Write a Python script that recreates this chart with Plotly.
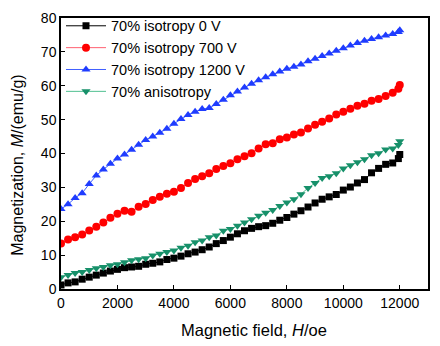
import plotly.graph_objects as go

field = [0, 250, 500, 750, 1000, 1250, 1500, 1750, 2000, 2250, 2500, 2750, 3000, 3250,
         3500, 3750, 4000, 4250, 4500, 4750, 5000, 5250, 5500, 5750, 6000, 6250, 6500,
         6750, 7000, 7250, 7500, 7750, 8000, 8250, 8500, 8750, 9000, 9250, 9500, 9750,
         10000, 10250, 10500, 10750, 11000, 11250, 11500, 11750, 11950, 12000]

iso_0V = [1.2, 1.8, 2.1, 2.9, 3.5, 4.1, 4.7, 5.3, 5.8, 6.3, 6.5, 6.7, 7.3, 7.6, 8.0, 8.7,
          9.1, 9.7, 10.4, 10.9, 11.6, 12.4, 13.4, 14.3, 15.3, 16.3, 17.2, 17.9, 18.4, 18.7,
          19.4, 20.3, 21.1, 22.1, 23.1, 24.2, 25.4, 26.5, 27.2, 27.9, 29.2, 30.1, 31.3,
          32.3, 34.3, 35.6, 36.8, 37.2, 38.5, 39.7]

iso_700V = [13.4, 14.6, 15.3, 16.1, 17.3, 18.4, 19.6, 21.0, 22.2, 23.1, 22.8, 24.3, 25.1,
            26.3, 27.2, 28.1, 28.7, 29.8, 31.3, 32.5, 33.3, 34.2, 35.4, 36.3, 37.1, 38.3,
            39.2, 40.1, 41.5, 42.7, 43.0, 44.2, 44.7, 45.6, 46.2, 47.4, 48.5, 49.4, 50.3,
            51.5, 52.3, 53.2, 54.1, 54.7, 55.6, 56.1, 57.0, 57.9, 59.1, 60.2]

iso_1200V = [23.6, 25.0, 26.9, 28.3, 31.0, 33.5, 35.3, 37.0, 38.5, 39.7, 41.1, 42.6, 44.0,
             45.0, 46.1, 47.3, 48.8, 50.2, 51.4, 52.3, 53.1, 53.4, 54.6, 55.9, 57.2, 58.3,
             59.5, 60.6, 61.6, 62.5, 63.4, 64.2, 65.0, 65.6, 66.3, 67.2, 68.0, 68.8, 69.5,
             70.3, 71.1, 71.9, 72.6, 73.3, 73.8, 74.3, 74.8, 75.3, 75.9, 76.4]

aniso = [3.5, 4.1, 4.7, 5.0, 5.6, 6.1, 6.5, 7.0, 7.3, 7.9, 8.5, 8.8, 9.1, 9.9, 10.4, 10.9,
         11.4, 12.2, 12.8, 13.8, 14.3, 15.3, 15.8, 17.2, 17.7, 18.7, 19.6, 20.6, 21.6, 22.5,
         23.3, 24.5, 25.5, 26.5, 28.0, 29.8, 31.3, 32.8, 33.3, 34.2, 35.6, 36.5, 37.4,
         38.3, 39.5, 40.1, 41.2, 41.5, 42.5, 43.6]

x_ticks = [0, 2000, 4000, 6000, 8000, 10000, 12000]
x_tick_text = ["0", "2000", "4000", "6000", "8000", "10000", "12000"]
y_ticks = [0, 10, 20, 30, 40, 50, 60, 70, 80]

series = [
    ("70% isotropy 0 V", iso_0V, "#000000", "#000000", "square", 7),
    ("70% isotropy 700 V", iso_700V, "#ff0000", "#ff6070", "circle", 8),
    ("70% isotropy 1200 V", iso_1200V, "#1f3cff", "#4060ff", "triangle-up", 8),
    ("70% anisotropy", aniso, "#17906a", "#50c090", "triangle-down", 8),
]

fig = go.Figure()
for name, vals, mcol, lcol, sym, sz in series:
    fig.add_trace(go.Scatter(
        x=field, y=vals, name=name, mode="lines+markers",
        line=dict(color=lcol, width=1),
        marker=dict(color=mcol, symbol=sym, size=sz, line=dict(width=0)),
    ))

font_family = "Liberation Sans, Arial, sans-serif"
fig.update_layout(
    width=440, height=346,
    margin=dict(l=61, r=10, t=15, b=57),
    paper_bgcolor="white", plot_bgcolor="white",
    font=dict(family=font_family, size=14, color="black"),
    showlegend=True,
    legend=dict(x=0.0, y=1.03, xanchor="left", yanchor="top",
                bgcolor="rgba(0,0,0,0)", font=dict(size=14.5),
                tracegroupgap=0, itemwidth=40),
    xaxis=dict(
        range=[0, 13000], tickmode="array",
        tickvals=x_ticks, ticktext=x_tick_text,
        ticks="inside", ticklen=4, tickcolor="black", tickwidth=1,
        showline=True, linecolor="black", linewidth=1.5, mirror=True,
        showgrid=False, zeroline=False,
    ),
    yaxis=dict(
        range=[0, 80], tickmode="array", tickvals=y_ticks,
        ticks="inside", ticklen=4, tickcolor="black", tickwidth=1,
        showline=True, linecolor="black", linewidth=1.5, mirror=True,
        showgrid=False, zeroline=False,
    ),
    annotations=[
        dict(text="Magnetic field, <i>H</i>/oe", xref="paper", yref="paper",
             x=0.525, y=-0.11, xanchor="center", yanchor="top",
             showarrow=False, font=dict(size=16.5)),
        dict(text="Magnetization, <i>M</i>/(emu/g)", xref="paper", yref="paper",
             x=-0.117, y=0.455, xanchor="center", yanchor="middle", textangle=-90,
             showarrow=False, font=dict(size=16)),
    ],
)

fig.write_html("out.html")
